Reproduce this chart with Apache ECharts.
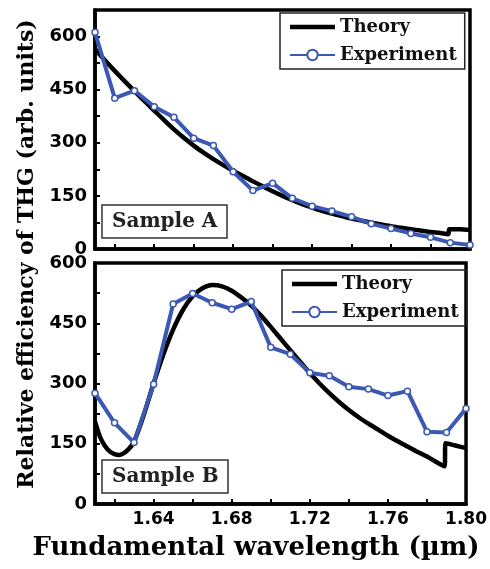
<!DOCTYPE html>
<html>
<head>
<meta charset="utf-8">
<script src="https://cdn.jsdelivr.net/npm/echarts@6/dist/echarts.min.js"></script>
<style>
html,body{margin:0;padding:0;background:#fff;}
#c{width:490px;height:569px;}
</style>
</head>
<body>
<div id="c"></div>
<script>
// ---- data ----
const expWavelength = [1.61,1.62,1.63,1.64,1.65,1.66,1.67,1.68,1.69,1.70,1.71,1.72,1.73,1.74,1.75,1.76,1.77,1.78,1.79,1.80];
const expA = [612,426,447,402,372,313,292,218,165,186,143,121,107,91,71,58,44,33,18,11];
const expB = [276,202,153,298,498,524,501,485,504,390,373,327,319,292,286,270,281,180,178,238];

const theoryAWavelength = [1.61,1.615,1.62,1.625,1.63,1.635,1.64,1.645,1.65,1.655,1.66,1.665,1.67,1.675,1.68,1.685,1.69,1.695,1.70,1.705,1.71,1.715,1.72,1.725,1.73,1.735,1.74,1.745,1.75,1.755,1.76,1.765,1.77,1.775,1.78,1.785,1.789,1.7895,1.795,1.80];
const theoryA = [565,533,503,474,446,418,391,364,338,314,292,272,254,237,221,206,191,177,163,150,138,127,117,108,100,93,86,80,74,69,64,60,56,52,48,45,42,56,56,54];

const theoryBWavelength = [1.61,1.6125,1.615,1.6175,1.62,1.6225,1.625,1.6275,1.63,1.635,1.64,1.645,1.65,1.655,1.66,1.665,1.67,1.675,1.68,1.685,1.69,1.695,1.70,1.705,1.71,1.715,1.72,1.725,1.73,1.735,1.74,1.745,1.75,1.755,1.76,1.765,1.77,1.775,1.78,1.785,1.789,1.7895,1.795,1.80];
const theoryB = [205,168,145,131,124,122,127,138,155,222,300,372,434,483,517,537,545,542,531,514,494,469,441,412,383,354,326,300,276,254,234,216,200,185,170,156,143,130,118,104,94,151,145,139];

const yTicks = [0,150,300,450,600];
const yMinorTicks = [0,75,150,225,300,375,450,525,600];
const xTickLabels = [1.64,1.68,1.72,1.76,1.80];
const xTicks = [1.62,1.64,1.66,1.68,1.70,1.72,1.74,1.76,1.78,1.80];

const seriesNames = ['Theory','Experiment'];
const sampleLabels = ['Sample A','Sample B'];
const xTitle = 'Fundamental wavelength (\u00b5m)';
const yTitle = 'Relative efficiency of THG (arb. units)';

// ---- chart ----
const BLUE = '#3b58b4';
const serifFont = '"DejaVu Serif", serif';
const sansFont = '"DejaVu Sans", sans-serif';

function zip(xs, ys){ return xs.map((x,i)=>[x, ys[i]]); }

function xAxisCfg(gridIndex, showLabels){
  return {
    type:'value', gridIndex, min:1.61, max:1.80,
    axisLine:{show:true, lineStyle:{color:'#000', width:3.5}},
    axisTick:{show:true, inside:true, length:5, lineStyle:{color:'#000', width:2}, customValues:xTicks},
    axisLabel:{show:showLabels, customValues:xTickLabels, margin:7,
      color:'#000', fontFamily:sansFont, fontWeight:'bold', fontSize:17,
      formatter:v=>v.toFixed(2)},
    splitLine:{show:false}
  };
}
function yAxisCfg(gridIndex, max){
  return {
    type:'value', gridIndex, min:0, max:max,
    axisLine:{show:true, lineStyle:{color:'#000', width:3.5}},
    axisTick:{show:true, inside:true, length:5, lineStyle:{color:'#000', width:2}, customValues:yMinorTicks},
    axisLabel:{customValues:yTicks, margin:8, color:'#000', fontFamily:sansFont, fontWeight:'bold', fontSize:18},
    splitLine:{show:false}
  };
}
function legendCfg(left, top){
  return {
    data:[
      {name:seriesNames[0], icon:'path://M0,0H45V4.5H0Z', itemStyle:{color:'#000'}},
      {name:seriesNames[1]}
    ],
    orient:'vertical', left, top,
    itemWidth:45, itemHeight:13, itemGap:10,
    padding:[5,8,5,9],
    borderColor:'#222', borderWidth:1.5,
    selectedMode:false,
    textStyle:{color:'#111', fontFamily:serifFont, fontWeight:'bold', fontSize:18}
  };
}
function theorySeries(idx, data){
  return {name:seriesNames[0], type:'line', xAxisIndex:idx, yAxisIndex:idx, data,
    showSymbol:false, symbol:'none', smooth:0.25,
    lineStyle:{color:'#000', width:4.5}, itemStyle:{color:'#000'}, z:2};
}
function expSeries(idx, data){
  return {name:seriesNames[1], type:'line', xAxisIndex:idx, yAxisIndex:idx, data,
    symbol:'circle', symbolSize:6, showSymbol:true,
    lineStyle:{color:BLUE, width:4}, itemStyle:{color:'#fff', borderColor:BLUE, borderWidth:1.5}, z:3};
}

const chart = echarts.init(document.getElementById('c'), null, {renderer:'canvas'});
chart.setOption({
  animation:false,
  backgroundColor:'#fff',
  grid:[
    {left:95, top:10, width:375, height:239, show:true, borderColor:'#000', borderWidth:3.5, backgroundColor:'#fff'},
    {left:95, top:263, width:375, height:241, show:true, borderColor:'#000', borderWidth:3.5, backgroundColor:'#fff'}
  ],
  xAxis:[xAxisCfg(0,false), xAxisCfg(1,true)],
  yAxis:[yAxisCfg(0,675), yAxisCfg(1,600)],
  legend:[legendCfg(280,13), legendCfg(282,270)],
  title:[
    {text:sampleLabels[0], left:102, top:205, padding:[7,10,6,10], borderColor:'#333', borderWidth:1.5,
      textStyle:{fontFamily:serifFont, fontWeight:'bold', fontSize:20, color:'#222'}},
    {text:sampleLabels[1], left:102, top:460, padding:[7,10,6,10], borderColor:'#333', borderWidth:1.5,
      textStyle:{fontFamily:serifFont, fontWeight:'bold', fontSize:20, color:'#222'}}
  ],
  graphic:[
    {type:'text', x:256, y:548, style:{text:xTitle, fill:'#000', font:'bold 26px "DejaVu Serif", serif', textAlign:'center', textVerticalAlign:'middle'}},
    {type:'text', x:27, y:254, rotation:Math.PI/2, style:{text:yTitle, fill:'#000', font:'bold 22px "DejaVu Serif", serif', textAlign:'center', textVerticalAlign:'middle'}}
  ],
  series:[
    theorySeries(0, zip(theoryAWavelength, theoryA)),
    expSeries(0, zip(expWavelength, expA)),
    theorySeries(1, zip(theoryBWavelength, theoryB)),
    expSeries(1, zip(expWavelength, expB))
  ]
});
</script>
</body>
</html>
